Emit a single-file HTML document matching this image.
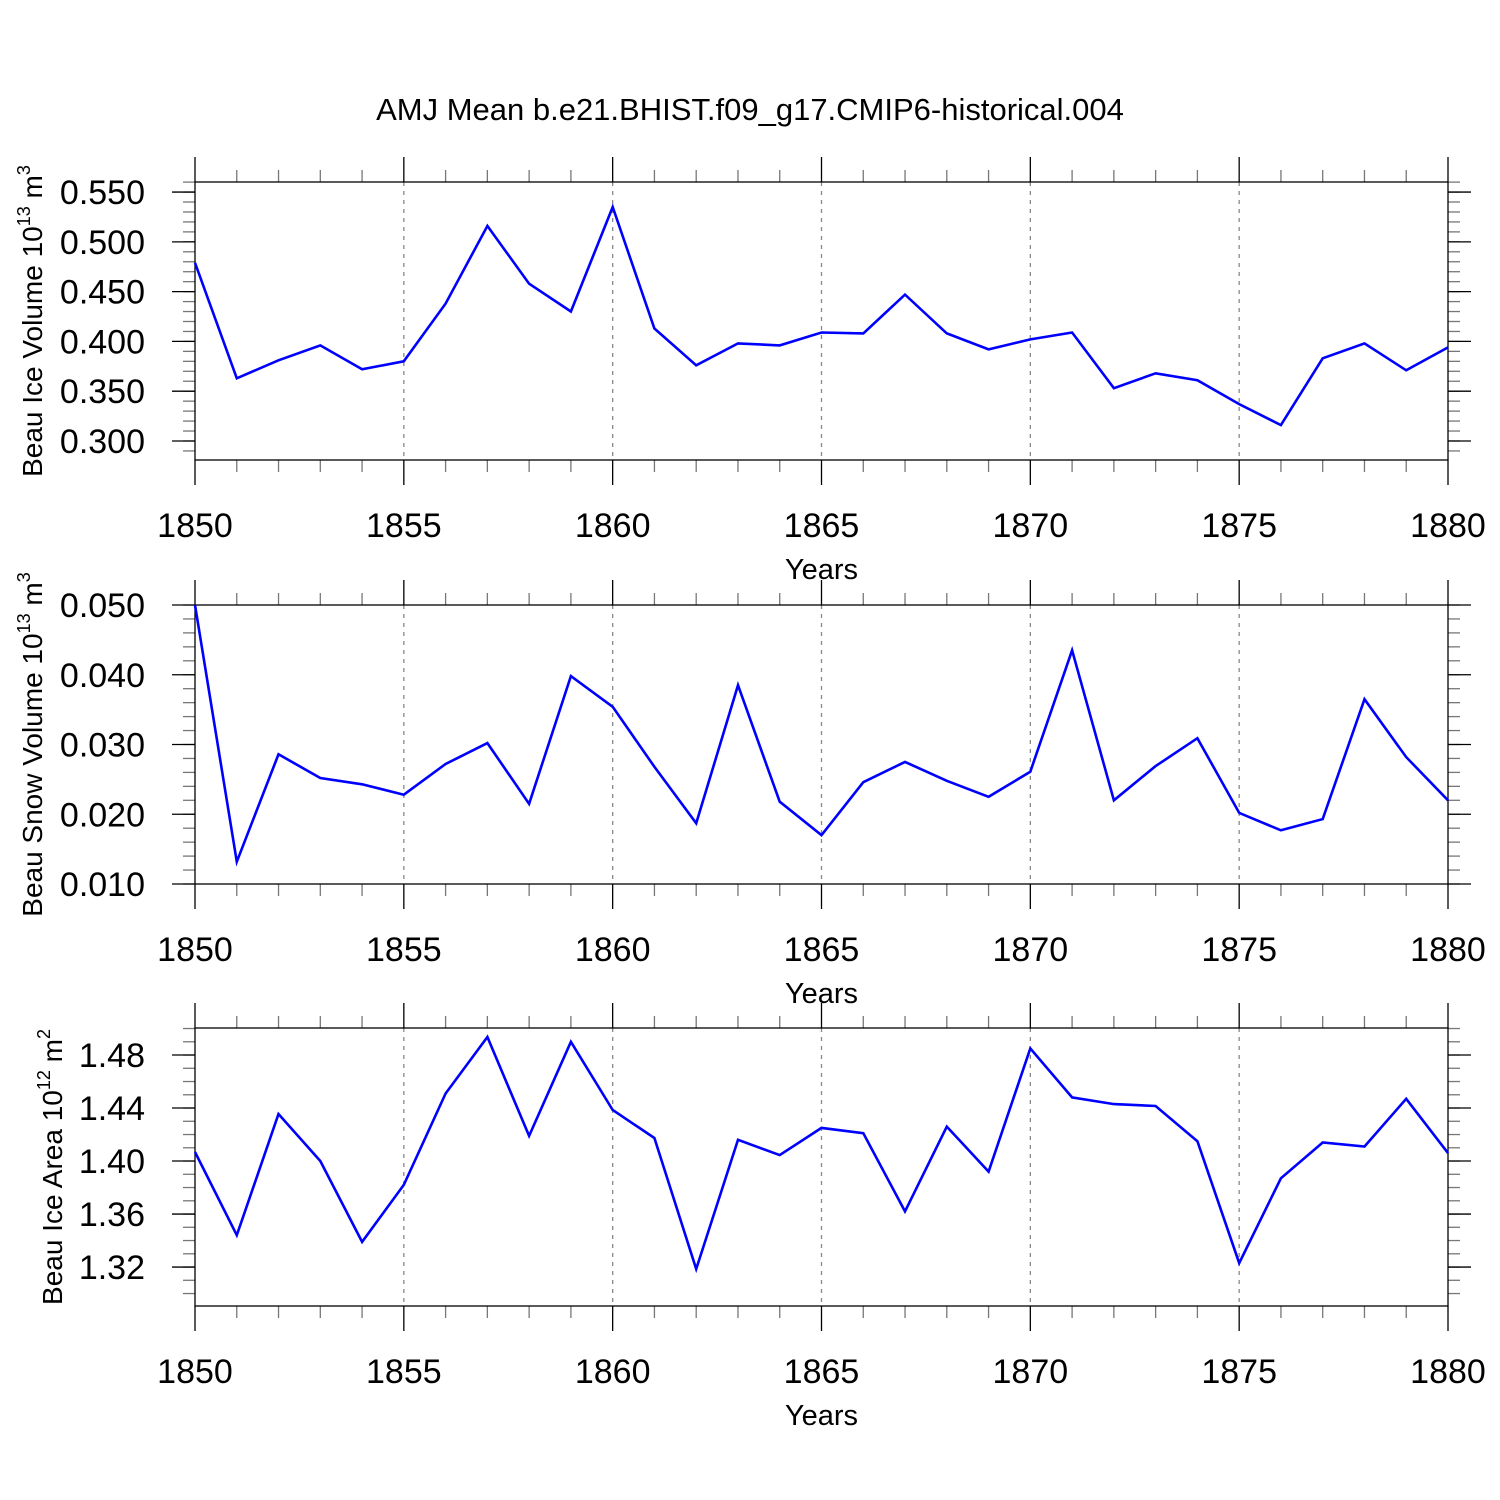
<!DOCTYPE html>
<html><head><meta charset="utf-8"><style>
body{margin:0;background:#fff}
svg{display:block}
text{font-family:"Liberation Sans",sans-serif;fill:#000}
</style></head><body>
<svg id="chart" width="1500" height="1500" viewBox="0 0 1500 1500">
<text x="750" y="120" font-size="31" text-anchor="middle">AMJ Mean b.e21.BHIST.f09_g17.CMIP6-historical.004</text>
</svg>
<script>
const years=[1850,1851,1852,1853,1854,1855,1856,1857,1858,1859,1860,1861,1862,1863,1864,1865,1866,1867,1868,1869,1870,1871,1872,1873,1874,1875,1876,1877,1878,1879,1880];
const iceVolume=[0.479,0.363,0.381,0.396,0.372,0.380,0.438,0.516,0.458,0.430,0.535,0.413,0.376,0.398,0.396,0.409,0.408,0.447,0.408,0.392,0.402,0.409,0.353,0.368,0.361,0.337,0.316,0.383,0.398,0.371,0.394];
const snowVolume=[0.050,0.0132,0.0286,0.0252,0.0243,0.0228,0.0272,0.0302,0.0215,0.0398,0.0354,0.0268,0.0187,0.0385,0.0218,0.0170,0.0246,0.0275,0.0248,0.0225,0.0261,0.0435,0.0220,0.0269,0.0309,0.0202,0.0177,0.0193,0.0365,0.0282,0.0220];
const iceArea=[1.4068,1.344,1.4355,1.400,1.339,1.382,1.451,1.4936,1.419,1.490,1.4385,1.4174,1.3185,1.416,1.4045,1.425,1.421,1.362,1.426,1.392,1.485,1.448,1.443,1.4415,1.415,1.323,1.387,1.414,1.411,1.447,1.406];
const xTicks=[1850,1855,1860,1865,1870,1875,1880];
const ticks1=["0.300","0.350","0.400","0.450","0.500","0.550"];
const ticks2=["0.010","0.020","0.030","0.040","0.050"];
const ticks3=["1.32","1.36","1.40","1.44","1.48"];

const NS="http://www.w3.org/2000/svg";
const svg=document.getElementById('chart');
function mk(tag,attrs,parent){const e=document.createElementNS(NS,tag);for(const k in attrs)e.setAttribute(k,attrs[k]);(parent||svg).appendChild(e);return e;}
const X0=195,X1=1448;
const xs=y=>X0+(y-1850)/30*(X1-X0);

const panels=[
 {name:'ice-volume',data:iceVolume,top:182,bot:460,ymin:0.2809,ymax:0.5601,ticks:ticks1,minor:0.01,tx:32,label:['Beau Ice Volume 10','13',' m','3']},
 {name:'snow-volume',data:snowVolume,top:605,bot:884,ymin:0.010,ymax:0.050,ticks:ticks2,minor:0.002,tx:32,label:['Beau Snow Volume 10','13',' m','3']},
 {name:'ice-area',data:iceArea,top:1028,bot:1306,ymin:1.2906,ymax:1.5004,ticks:ticks3,minor:0.01,tx:52,label:['Beau Ice Area 10','12',' m','2']}
];
panels.forEach(p=>{
 const g=mk('g',{});
 
 
 const ys=v=>p.bot-(v-p.ymin)/(p.ymax-p.ymin)*(p.bot-p.top);
 xTicks.slice(1,-1).forEach(t=>{
  const l=mk('line',{x1:xs(t),x2:xs(t),y1:p.top,y2:p.bot,stroke:'#888','stroke-width':1.3,'stroke-dasharray':'4,5'},g);
  
  
 });
 years.forEach(yr=>{
  const major=(yr%5===0);const len=major?25:12;const c=major?'#000':'#777';
  mk('line',{x1:xs(yr),x2:xs(yr),y1:p.top-len,y2:p.top,stroke:c,'stroke-width':1.3},g);
  mk('line',{x1:xs(yr),x2:xs(yr),y1:p.bot,y2:p.bot+len,stroke:c,'stroke-width':1.3},g);
 });
 xTicks.forEach(t=>{
  const tx=mk('text',{x:xs(t),y:p.bot+77,'font-size':34,'text-anchor':'middle'},g);
  tx.textContent=t;
  
  
 });
 const xt=mk('text',{x:(X0+X1)/2,y:p.bot+119,'font-size':29,'text-anchor':'middle'},g);
 xt.textContent='Years';
 
 
 const n=Math.round((p.ymax-p.ymin)/p.minor)+2;
 const start=Math.ceil(p.ymin/p.minor-1e-6)*p.minor;
 for(let i=0;i<n;i++){const v=start+i*p.minor;if(v>p.ymax+1e-9)break;const y=ys(v);
  mk('line',{x1:X0-12,x2:X0,y1:y,y2:y,stroke:'#777','stroke-width':1.3},g);
  mk('line',{x1:X1,x2:X1+12,y1:y,y2:y,stroke:'#777','stroke-width':1.3},g);}
 p.ticks.forEach(t=>{const y=ys(parseFloat(t));
  mk('line',{x1:X0-23,x2:X0,y1:y,y2:y,stroke:'#000','stroke-width':1.3},g);
  mk('line',{x1:X1,x2:X1+23,y1:y,y2:y,stroke:'#000','stroke-width':1.3},g);
  const tx=mk('text',{x:X0-50,y:y+12,'font-size':34,'text-anchor':'end'},g);
  tx.textContent=t;
  
  
 });
 const fr=mk('rect',{x:X0,y:p.top,width:X1-X0,height:p.bot-p.top,fill:'none',stroke:'#000','stroke-width':1.3},g);
 
 
 const cy=(p.top+p.bot)/2;
 const yt=mk('text',{x:0,y:0,'font-size':28,'text-anchor':'middle',transform:`translate(${p.tx+10},${cy}) rotate(-90)`},g);
 
 
 yt.innerHTML=`${p.label[0]}<tspan font-size="18" dy="-12">${p.label[1]}</tspan><tspan dy="12">${p.label[2]}</tspan><tspan font-size="18" dy="-12">${p.label[3]}</tspan>`;
 const pts=p.data.map((v,i)=>xs(years[i]).toFixed(1)+','+ys(v).toFixed(1)).join(' ');
 const pl=mk('polyline',{points:pts,fill:'none',stroke:'#0000ff','stroke-width':2.6,'stroke-linejoin':'miter'},g);
 
 
});
</script>
</body></html>
